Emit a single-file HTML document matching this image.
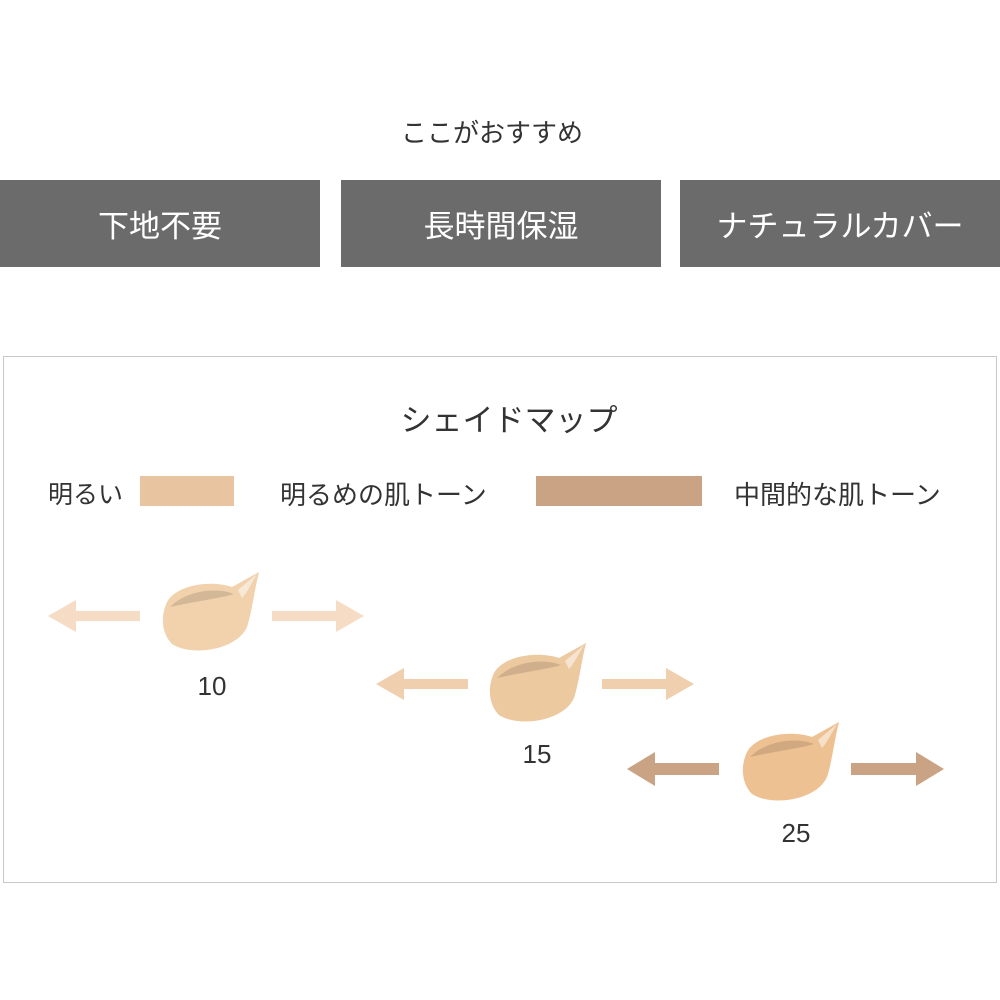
<!DOCTYPE html>
<html><head><meta charset="utf-8"><style>
body{margin:0;width:1000px;height:1000px;background:#fff;position:relative;overflow:hidden;font-family:"Liberation Sans","Noto Sans CJK JP",sans-serif;color:#333}
.t{position:absolute;white-space:nowrap}
.box{position:absolute;top:180px;height:87px;background:#6b6b6b;color:#fff;font-size:31px;display:flex;align-items:center;justify-content:center}
</style></head><body>
<div class="t" style="left:0;width:984px;text-align:center;top:113px;font-size:26px">ここがおすすめ</div>
<div class="box" style="left:0;width:320px">下地不要</div>
<div class="box" style="left:341px;width:320px">長時間保湿</div>
<div class="box" style="left:680px;width:320px">ナチュラルカバー</div>
<div style="position:absolute;left:3px;top:356px;width:992px;height:525px;border:1.5px solid #c8c8c8"></div>
<div class="t" style="left:0;width:1018px;text-align:center;top:395px;font-size:31px">シェイドマップ</div>
<div class="t" style="left:48px;top:475px;font-size:25px">明るい</div>
<div style="position:absolute;left:140px;top:476px;width:94px;height:30px;background:#e8c4a0"></div>
<div class="t" style="left:280px;top:475px;font-size:26px">明るめの肌トーン</div>
<div style="position:absolute;left:536px;top:476px;width:166px;height:30px;background:#c9a383"></div>
<div class="t" style="left:734px;top:475px;font-size:26px">中間的な肌トーン</div>
<svg width="1000" height="1000" style="position:absolute;left:0;top:0">
<defs>
<g id="b">
<path d="M5,30 C15,12 50,8 70,15 L97,0 C92,20 90,40 85,55 C75,78 30,85 10,72 C0,62 -2,45 5,30 Z"/>
<path d="M8,35 C25,18 55,15 72,22 C60,26 40,28 8,35Z" fill="#000" opacity=".12"/>
<path d="M76,18 L95,2 C88,14 84,22 80,26Z" fill="#fff" opacity=".5"/>
</g>
</defs>
<g fill="#f6dcc4"><path d="M48,616 L76,600 L76,611 L140,611 L140,621 L76,621 L76,632Z"/><path d="M364,616 L336,600 L336,611 L272,611 L272,621 L336,621 L336,632Z"/></g>
<g fill="#efcfae"><path d="M376,684 L404,668 L404,679 L468,679 L468,689 L404,689 L404,700Z"/><path d="M694,684 L666,668 L666,679 L602,679 L602,689 L666,689 L666,700Z"/></g>
<g fill="#c9a383"><path d="M627,769 L655,752 L655,763 L719,763 L719,775 L655,775 L655,786Z"/><path d="M944,769 L916,752 L916,763 L851,763 L851,775 L916,775 L916,786Z"/></g>
<use href="#b" x="162" y="572" fill="#f1d2ad"/>
<use href="#b" x="489" y="643" fill="#edc9a0"/>
<use href="#b" x="742" y="722" fill="#eec193"/>
<g font-size="26" fill="#333" text-anchor="middle" font-family="Liberation Sans,sans-serif">
<text x="212" y="695">10</text><text x="537" y="763">15</text><text x="796" y="842">25</text></g>
</svg>
</body></html>
